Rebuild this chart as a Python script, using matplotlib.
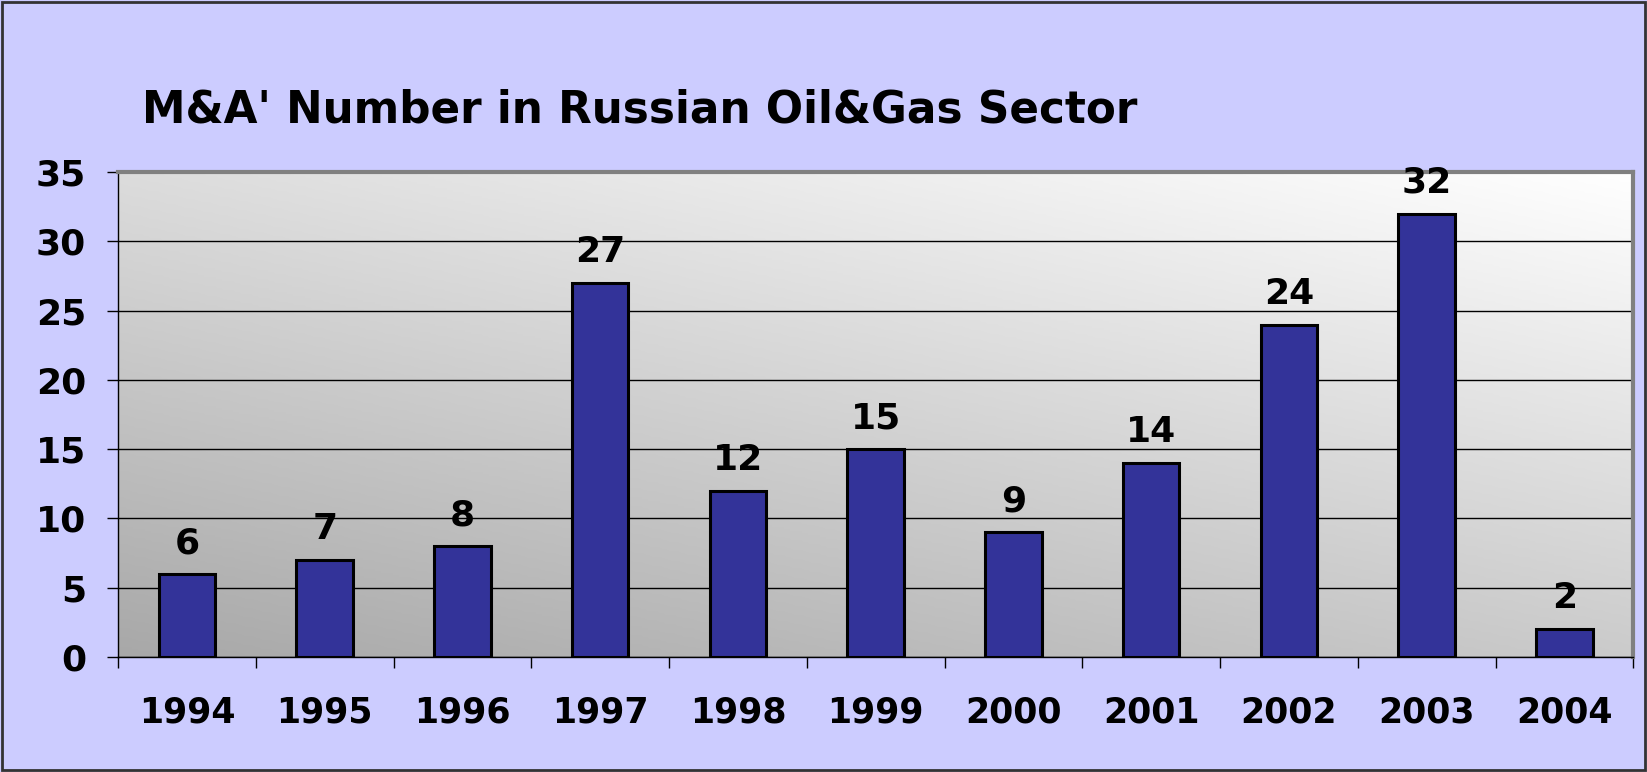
import numpy as np
import matplotlib
matplotlib.use('Agg')
import matplotlib.pyplot as plt
from matplotlib.patches import Rectangle
from matplotlib.colors import LinearSegmentedColormap

# donnees du graphique
years = ['1994', '1995', '1996', '1997', '1998', '1999', '2000', '2001', '2002', '2003', '2004']
deals = [6, 7, 8, 27, 12, 15, 9, 14, 24, 32, 2]
y_ticks = [0, 5, 10, 15, 20, 25, 30, 35]

plt.rcParams['font.family'] = ['DejaVu Sans']
plt.rcParams['font.weight'] = 'bold'

fig = plt.figure(figsize=(16.47, 7.72), dpi=100, facecolor='#CCCCFF')
ax = fig.add_axes([0.0717, 0.149, 0.92, 0.628])
ax.set_facecolor('none')

# fond en degrade (gris en bas a gauche -> blanc en haut a droite)
n = 256
gx, gy = np.meshgrid(np.linspace(0, 1, n), np.linspace(0, 1, n))
grad = 0.6 * gy + 0.4 * gx
cmap = LinearSegmentedColormap.from_list('g', ['#A8A8A8', '#FFFFFF'])
ax.imshow(grad, extent=[0, 1, 0, 1], transform=ax.transAxes, origin='lower',
          cmap=cmap, aspect='auto', zorder=0, interpolation='bilinear')

x = np.arange(len(years))
ax.bar(x, deals, width=0.41, color='#333399', edgecolor='black', linewidth=2.2, zorder=3)

for xi, v in zip(x, deals):
    ax.text(xi, v + 1.0, str(v), ha='center', va='bottom', fontsize=26,
            fontweight='bold', zorder=4)

ax.set_xlim(-0.5, len(years) - 0.5)
ax.set_ylim(0, 35)
ax.set_yticks(y_ticks)
ax.set_yticklabels([str(t) for t in y_ticks], fontsize=26, fontweight='bold')
ax.yaxis.grid(True, color='black', linewidth=1, zorder=1)
ax.set_axisbelow(True)

ax.set_xticks(x)
ax.set_xticklabels(years, fontsize=25, fontweight='bold')
ax.set_xticks(np.arange(-0.5, len(years)), minor=True)
ax.tick_params(axis='x', which='major', length=0, pad=28)
ax.tick_params(axis='x', which='minor', length=8, width=1, direction='out')
ax.tick_params(axis='y', length=8, width=1, direction='out', pad=15)

ax.spines['left'].set_color('black')
ax.spines['bottom'].set_color('black')
ax.spines['left'].set_linewidth(1)
ax.spines['bottom'].set_linewidth(1)
ax.spines['top'].set_color('#808080')
ax.spines['right'].set_color('#808080')
ax.spines['top'].set_linewidth(3)
ax.spines['right'].set_linewidth(3)

fig.text(0.0865, 0.858, "M&A' Number in Russian Oil&Gas Sector", fontsize=31.5,
         fontweight='bold', ha='left', va='center')

# cadre exterieur
fig.patches.append(Rectangle((0.001, 0.002), 0.998, 0.996, transform=fig.transFigure,
                             fill=False, edgecolor='#333333', linewidth=2))

fig.savefig('out.png', dpi=100, facecolor=fig.get_facecolor())
